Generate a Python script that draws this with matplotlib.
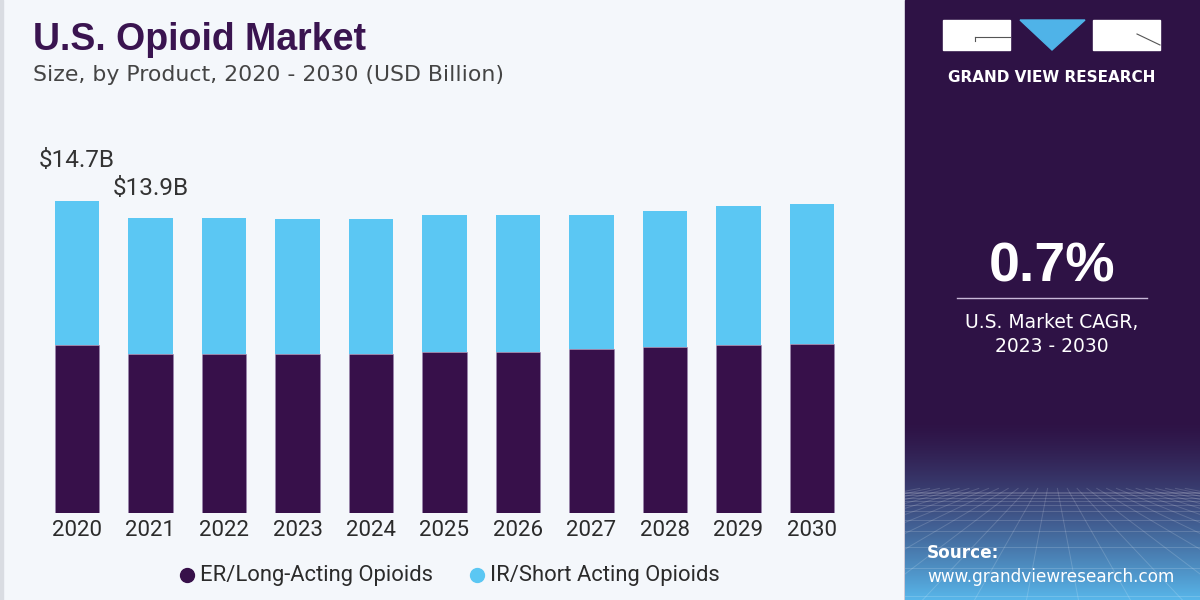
import numpy as np
import matplotlib
matplotlib.use('Agg')
import matplotlib.pyplot as plt
from matplotlib.patches import Rectangle, Polygon
from matplotlib.lines import Line2D

years = ['2020', '2021', '2022', '2023', '2024', '2025', '2026', '2027', '2028', '2029', '2030']
er_long = [7.90, 7.48, 7.48, 7.48, 7.48, 7.59, 7.59, 7.71, 7.82, 7.90, 7.98]
ir_short = [6.80, 6.42, 6.42, 6.39, 6.39, 6.44, 6.44, 6.35, 6.40, 6.57, 6.58]
labels = {0: '$14.7B', 1: '$13.9B'}
series_names = ['ER/Long-Acting Opioids', 'IR/Short Acting Opioids']

DARK = '#37104A'
BLUE = '#5BC7F3'
PANEL = '#2E1245'
BG = '#F4F7FB'
COND = ['Roboto', 'DejaVu Sans']
SANS = ['Liberation Sans', 'DejaVu Sans']
WIDE = ['DejaVu Sans']

W, H = 1200, 600
PX_PER_B = 21.22
fig = plt.figure(figsize=(12, 6), dpi=100)
fig.patch.set_facecolor(BG)


def fx(px):
    return px / W


def fy(py):
    return 1 - py / H


# left thin border
fig.patches.append(Rectangle((0, 0), fx(3), 1, transform=fig.transFigure,
                             color='#D9DCE2', zorder=-1))

# title
fig.text(fx(33), fy(40), 'U.S. Opioid Market', fontsize=27, fontweight='bold',
         color='#3A1450', family=SANS, va='center')
fig.text(fx(33), fy(75), 'Size, by Product, 2020 - 2030 (USD Billion)', fontsize=15.8,
         color='#444444', family=WIDE, va='center')

# bars
ax = fig.add_axes([0, fy(513), fx(900), (513 - 140) / H])
ax.set_facecolor('none')
x = np.arange(len(years))
ax.bar(x, er_long, width=0.6, color=DARK, edgecolor='#9C86B0', linewidth=0.4)
ax.bar(x, ir_short, bottom=er_long, width=0.6, color=BLUE, linewidth=0)
ax.set_xlim(-77 / 73.5, (900 - 77) / 73.5)
ax.set_ylim(0, 373 / PX_PER_B)
ax.axis('off')
for i, y in enumerate(years):
    ax.text(i, -17 / PX_PER_B, y, ha='center', va='center', fontsize=16, color='#2B2B2B',
            family=COND)
lab_off = {0: 41, 1: 30}
for i, t in labels.items():
    tot = er_long[i] + ir_short[i]
    ax.text(i, tot + lab_off[i] / PX_PER_B, t, ha='center', va='center',
            fontsize=17.5, color='#333333', family=COND)

# legend
cols = [DARK, BLUE]
lx = [187, 477]
for c, name, px in zip(cols, series_names, lx):
    fig.lines.append(Line2D([fx(px)], [fy(575)], marker='o', markersize=10, color=c,
                            transform=fig.transFigure))
    fig.text(fx(px + 13), fy(575), name, fontsize=15.8, color='#2B2B2B', family=COND,
             va='center')

# right panel
fig.patches.append(Rectangle((fx(905), 0), 1 - fx(905), 1, transform=fig.transFigure,
                             color=PANEL, zorder=-1))
gax = fig.add_axes([fx(905), 0, 1 - fx(905), (600 - 420) / H])
gax.set_zorder(1)
grad = np.linspace(0, 1, 200)[:, None]
c0 = np.array([0x2E, 0x12, 0x45]) / 255
c1 = np.array([0x58, 0xB6, 0xEA]) / 255
img = c0 + (c1 - c0) * (grad ** 1.4)[:, :, None] * np.ones((1, 2, 1))
gax.imshow(img, aspect='auto', extent=[0, 1, 0, 1], origin='upper')
for k in np.linspace(-2.5, 3.5, 28):
    gax.plot([0.5 + (k - 0.5) * 0.15, k], [0.62, -0.2], color='white', alpha=0.16, lw=0.7)
for v in np.geomspace(0.02, 0.6, 12):
    gax.plot([0, 1], [0.62 - v, 0.62 - v], color='white', alpha=0.16, lw=0.7)
gax.set_xlim(0, 1)
gax.set_ylim(0, 1)
gax.axis('off')

# logo
fig.patches.append(Rectangle((fx(943), fy(50)), fx(67), 30 / H, transform=fig.transFigure,
                             color='white'))
fig.patches.append(Rectangle((fx(1093), fy(50)), fx(67), 30 / H, transform=fig.transFigure,
                             color='white'))
fig.patches.append(Polygon([(fx(1020), fy(20)), (fx(1085), fy(20)), (fx(1052), fy(50))],
                           transform=fig.transFigure, color='#4FB3E8'))
fig.lines.append(Line2D([fx(975), fx(1010)], [fy(37), fy(37)], color='#555555', lw=0.8,
                        transform=fig.transFigure))
fig.lines.append(Line2D([fx(975), fx(975)], [fy(37), fy(41)], color='#555555', lw=0.8,
                        transform=fig.transFigure))
fig.lines.append(Line2D([fx(1137), fx(1160)], [fy(34), fy(45)], color='#555555', lw=0.8,
                        transform=fig.transFigure))
fig.text(fx(1052), fy(77), 'GRAND VIEW RESEARCH', fontsize=11, fontweight='bold',
         color='white', ha='center', va='center', family=WIDE)

# CAGR
fig.text(fx(1052), fy(268), '0.7%', fontsize=40, fontweight='bold', color='white',
         ha='center', va='center', family=SANS)
fig.lines.append(Line2D([fx(957), fx(1147)], [fy(298), fy(298)], color='#C8B8D8', lw=1,
                        transform=fig.transFigure))
fig.text(fx(1052), fy(322), 'U.S. Market CAGR,', fontsize=13.5, color='white',
         ha='center', va='center', family=WIDE)
fig.text(fx(1052), fy(346), '2023 - 2030', fontsize=13.5, color='white',
         ha='center', va='center', family=WIDE)

fig.text(fx(927), fy(553), 'Source:', fontsize=12.2, fontweight='bold', color='white',
         va='center', family=WIDE, zorder=3)
fig.text(fx(927), fy(577), 'www.grandviewresearch.com', fontsize=12.2, color='white',
         va='center', family=WIDE, zorder=3)

fig.savefig('out.png', dpi=100, facecolor=fig.get_facecolor())
